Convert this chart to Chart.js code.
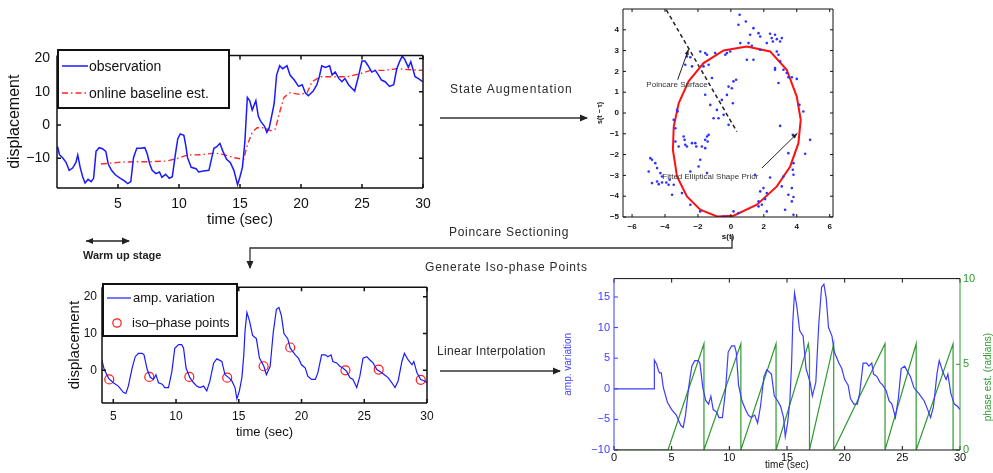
<!DOCTYPE html>
<html>
<head>
<meta charset="utf-8">
<script src="https://cdn.jsdelivr.net/npm/chart.js@4.4.1/dist/chart.umd.min.js"></script>
<style>
  body { margin: 0; background: #fff; width: 993px; height: 473px; position: relative; overflow: hidden; font-family: "Liberation Sans", Arial, sans-serif; }
  .wrap { position: absolute; }
  .lbl { position: absolute; line-height: 1; white-space: nowrap; color: #2a2a2a; }
  .legend { position: absolute; box-sizing: border-box; border: 2px solid #111; background: #fff; }
  svg.over { position: absolute; left: 0; top: 0; pointer-events: none; }
</style>
</head>
<body>

<div class="wrap" style="left:0;top:40px;width:440px;height:200px"><canvas id="obsChart"></canvas></div>
<div class="wrap" style="left:590px;top:0;width:250px;height:245px"><canvas id="phaseSpace"></canvas></div>
<div class="wrap" style="left:60px;top:275px;width:380px;height:175px"><canvas id="isoChart"></canvas></div>
<div class="wrap" style="left:555px;top:268px;width:438px;height:205px"><canvas id="interpChart"></canvas></div>

<!-- legends -->
<div class="legend" style="left:57px;top:49px;width:173px;height:60px"></div>
<div class="legend" style="left:102px;top:283px;width:136px;height:54px"></div>

<svg class="over" width="993" height="473">
  <defs>
    <marker id="ah" markerWidth="8" markerHeight="8" refX="7" refY="4" orient="auto" markerUnits="userSpaceOnUse">
      <path d="M0,0.5 L8,4 L0,7.5 Z" fill="#222"/>
    </marker>
    <marker id="ahs" markerWidth="7" markerHeight="7" refX="0" refY="3.5" orient="auto" markerUnits="userSpaceOnUse">
      <path d="M7,0.5 L0,3.5 L7,6.5 Z" fill="#222"/>
    </marker>
  </defs>
  <!-- legend samples -->
  <line x1="62" y1="66" x2="88" y2="66" stroke="#1a1aff" stroke-width="1.5"/>
  <line x1="62" y1="93" x2="88" y2="93" stroke="#ff2020" stroke-width="1.5" stroke-dasharray="6,3,1.5,3"/>
  <line x1="107" y1="298" x2="131" y2="298" stroke="#1a1aff" stroke-width="1.2"/>
  <circle cx="117" cy="323" r="4.2" fill="none" stroke="#ff1a1a" stroke-width="1.2"/>
  <!-- flow arrows -->
  <line x1="440" y1="118" x2="587" y2="118" stroke="#333" stroke-width="1.3" marker-end="url(#ah)"/>
  <polyline points="732,236 732,248 250,248 250,268" fill="none" stroke="#333" stroke-width="1.3" marker-end="url(#ah)"/>
  <line x1="440" y1="371" x2="560" y2="371" stroke="#333" stroke-width="1.3" marker-end="url(#ah)"/>
  <line x1="86" y1="241" x2="129" y2="241" stroke="#222" stroke-width="1.3" marker-start="url(#ahs)" marker-end="url(#ah)"/>
</svg>

<div class="lbl" style="left:89px;top:59px;font-size:14px;color:#111">observation</div>
<div class="lbl" style="left:89px;top:86px;font-size:14px;color:#111">online baseline est.</div>
<div class="lbl" style="left:133px;top:291px;font-size:13px;color:#111">amp. variation</div>
<div class="lbl" style="left:132px;top:316px;font-size:13px;color:#111">iso–phase points</div>

<div class="lbl" style="left:450px;top:83px;font-size:12px;letter-spacing:1px">State Augmentation</div>
<div class="lbl" style="left:449px;top:226px;font-size:12px;letter-spacing:0.7px">Poincare Sectioning</div>
<div class="lbl" style="left:425px;top:261px;font-size:12px;letter-spacing:0.8px">Generate Iso-phase Points</div>
<div class="lbl" style="left:437px;top:345px;font-size:12px;letter-spacing:0.3px">Linear Interpolation</div>
<div class="lbl" style="left:83px;top:250px;font-size:11px;font-weight:bold;color:#222">Warm up stage</div>
<div class="lbl" style="left:988px;top:377px;font-size:10px;color:#2e9a2e;transform:translate(-50%,-50%) rotate(-90deg)">phase est. (radians)</div>

<script>
// ---- top-left: raw observation and online baseline ----
const observation = [[0.05,-6.5],[0.2,-8.9],[0.46,-9.8],[0.74,-11.2],[1.0,-13.6],[1.28,-12.9],[1.55,-11.2],[1.7,-9.0],
  [1.9,-12.7],[2.1,-15.5],[2.3,-17.4],[2.55,-16.3],[2.8,-17.0],[3.0,-16.0],[3.2,-7.9],[3.46,-6.8],[3.73,-7.1],[4.0,-7.9],
  [4.2,-11.7],[4.47,-13.6],[4.8,-15.0],[5.2,-16.0],[5.5,-16.7],[5.8,-17.6],[6.05,-17.0],[6.27,-9.8],[6.54,-7.0],[6.87,-7.0],
  [7.2,-6.8],[7.4,-8.7],[7.6,-11.7],[7.8,-13.6],[8.1,-14.6],[8.4,-14.1],[8.6,-15.7],[8.9,-14.8],[9.2,-16.0],[9.45,-15.5],
  [9.7,-8.9],[9.9,-4.1],[10.1,-2.7],[10.4,-3.1],[10.55,-6.0],[10.7,-9.8],[11.0,-12.7],[11.4,-13.1],[11.6,-14.1],[12.0,-13.8],
  [12.45,-13.6],[12.6,-11.2],[12.86,-7.0],[13.1,-6.5],[13.35,-5.5],[13.6,-7.9],[13.9,-10.3],[14.2,-11.2],[14.5,-13.6],
  [14.8,-17.9],[15.0,-15.5],[15.2,-12.7],[15.4,-5.0],[15.6,8.3],[15.8,7.3],[16.0,4.5],[16.3,7.3],[16.5,2.6],[16.7,1.1],
  [17.0,-0.3],[17.2,-2.2],[17.4,-0.8],[17.8,6.4],[18.0,15.0],[18.25,17.8],[18.5,16.9],[18.85,17.8],[19.1,15.0],[19.45,13.5],
  [19.8,11.6],[20.1,12.1],[20.35,9.7],[20.6,8.8],[21.0,10.2],[21.3,12.1],[21.5,14.5],[21.7,17.8],[22.0,17.3],[22.35,17.8],
  [22.55,15.0],[22.8,15.9],[23.1,14.0],[23.35,13.0],[23.6,14.0],[23.9,12.1],[24.15,11.1],[24.4,10.2],[24.7,14.5],[25.0,19.2],
  [25.25,19.2],[25.5,17.8],[25.8,15.9],[26.1,16.4],[26.35,15.0],[26.6,13.5],[26.9,13.0],[27.25,11.6],[27.6,12.1],[27.85,16.9],
  [28.1,19.2],[28.3,20.7],[28.5,19.7],[28.8,17.3],[29.0,19.0],[29.35,14.5],[29.6,14.0],[29.97,13.0]];
const baseline = [[3.6,-11.7],[5.0,-11.2],[6.3,-11.0],[7.7,-11.0],[9.0,-10.8],[9.9,-10.0],[10.7,-9.0],[11.8,-8.9],[12.9,-8.4],
  [13.7,-8.9],[14.5,-9.8],[15.3,-10.3],[15.6,-6.0],[16.0,-2.2],[16.4,-0.8],[17.0,-0.8],[17.5,-1.7],[17.9,-1.2],[18.3,4.5],
  [18.6,8.3],[19.1,9.7],[19.9,9.2],[20.5,9.7],[20.9,13.0],[21.6,14.5],[22.7,14.5],[23.8,14.5],[24.85,15.4],[25.7,16.4],
  [26.75,16.4],[27.85,16.9],[28.9,16.6],[30.0,16.4]];

// ---- top-right: delay embedding ----
const embedPoints = [[0.53,4.72],[0.91,4.40],[0.46,4.24],[1.37,4.08],[1.17,3.76],[1.68,3.84],[1.78,3.68],[2.38,3.81],[2.48,3.60],
  [2.68,3.76],[2.79,3.55],[3.09,3.60],[2.99,3.44],[2.55,3.44],[2.18,3.36],[1.07,3.36],[1.27,3.23],[0.57,3.36],[0.97,2.56],
  [1.37,2.56],[1.78,3.04],[2.79,2.96],[2.89,2.80],[2.99,2.48],[2.68,2.16],[2.68,2.08],[3.19,2.08],[3.39,1.92],[3.49,1.72],
  [3.70,1.72],[4.0,1.64],[2.89,1.44],[4.16,0.39],[4.40,0.07],[2.99,-0.62],[4.81,-1.29],[3.76,-1.05],[3.49,-1.93],[4.51,-1.96],
  [3.80,-2.41],[3.76,-2.73],[3.80,-2.97],[3.19,-3.05],[3.09,-3.53],[3.70,-3.61],[3.49,-3.93],[3.80,-4.04],[3.70,-4.25],
  [3.29,-4.65],[3.80,-4.89],[1.98,-3.61],[1.78,-3.77],[2.18,-3.85],[2.08,-4.14],[1.68,-4.25],[1.88,-4.41],[1.68,-4.49],
  [2.18,-4.73],[1.47,-2.97],[2.38,-3.10],[0.16,-4.73],[0.46,-4.81],[-0.44,-4.98],
  [-4.89,-2.17],[-4.79,-2.25],[-4.59,-2.41],[-4.48,-2.65],[-4.99,-2.81],[-4.28,-2.89],[-4.18,-3.05],[-4.48,-3.29],[-4.79,-3.37],
  [-4.38,-3.42],[-4.18,-3.34],[-3.92,-3.34],[-3.72,-3.21],[-3.78,-3.45],[-3.47,-3.45],[-3.57,-3.93],[-2.97,-3.85],
  [-3.47,-0.33],[-3.37,-0.73],[-3.27,0.15],[-3.23,0.07],[-3.37,-1.37],[-3.17,-1.61],[-2.87,-1.13],[-2.81,-1.29],[-2.77,-1.53],
  [-2.67,-1.61],[-2.36,-1.45],[-2.16,-1.45],[-2.10,-1.61],[-1.76,-1.61],[-1.56,-1.29],[-1.45,-1.13],[-1.35,-1.05],[-1.41,-1.37],
  [-1.56,-1.69],[-1.86,-2.25],[-1.96,-2.57],[-2.46,-2.81],[-1.45,-2.89],[-1.86,-4.73],[-2.46,-4.41],
  [-2.67,2.72],[-2.46,2.68],[-2.77,2.32],[-2.36,2.24],[-1.86,2.96],[-1.56,2.88],[-1.45,2.80],[-1.66,2.24],[-1.35,2.32],
  [-0.95,2.88],[-0.34,2.80],[-0.24,2.88],[-0.04,2.96],[-1.15,1.68],[-1.56,0.88],[-1.25,0.39],[-1.05,-0.25],[-0.75,-0.25],
  [-0.85,0.15],[-0.55,0.63],[-0.24,0.87],[-0.14,1.27],[0.06,1.19],[0.16,1.52],[0.32,1.60],[0.12,0.47],[-0.44,-0.09],[-0.14,-0.57]];
const ellipsePrior = [[0.97,3.2],[2.38,2.96],[3.39,2.08],[4.0,0.79],[4.24,-0.33],[4.1,-1.45],[3.6,-2.57],[2.79,-3.53],
  [1.58,-4.41],[0.16,-4.94],[-0.85,-4.97],[-1.86,-4.65],[-2.67,-4.01],[-3.27,-3.05],[-3.52,-1.77],[-3.47,-0.65],
  [-3.17,0.47],[-2.57,1.52],[-1.66,2.40],[-0.44,3.01],[0.97,3.2]];
const poincareSurface = [[-3.92,4.96],[0.36,-0.89]];

// ---- bottom: amplitude variation, iso-phase points and phase estimate ----
const ampVariation = [[0,0],[3.47,0],[3.5,4.7],[3.7,4.0],[3.85,3.0],[3.95,2.6],[4.1,2.6],[4.28,0.2],[4.63,-2.2],[5.0,-3.4],
  [5.4,-4.3],[5.8,-6.0],[6.0,-6.3],[6.2,-4.3],[6.5,0.6],[6.75,3.7],[7.0,4.6],[7.3,4.6],[7.45,4.2],[7.7,0.2],[7.95,-1.9],
  [8.2,-2.5],[8.4,-1.2],[8.6,-3.4],[8.9,-3.8],[9.1,-4.7],[9.4,-4.7],[9.67,-0.3],[9.9,6.0],[10.2,7.0],[10.45,7.0],[10.6,6.0],
  [10.8,0.6],[11.1,-2.0],[11.4,-3.4],[11.65,-4.3],[11.9,-4.7],[12.2,-4.3],[12.45,-5.6],[12.7,-2.9],[13.0,2.0],[13.25,3.1],
  [13.65,2.4],[13.9,-1.2],[14.2,-2.0],[14.45,-2.9],[14.7,-4.7],[14.85,-7.8],[15.05,-5.6],[15.25,-2.0],[15.4,4.2],[15.5,10.8],
  [15.65,15.7],[15.85,13.5],[16.1,9.5],[16.4,8.6],[16.65,3.3],[17.0,1.1],[17.2,-1.2],[17.5,1.1],[17.75,10.4],[18.0,16.6],
  [18.2,17.1],[18.4,14.8],[18.6,10.0],[18.9,8.6],[19.1,6.0],[19.5,4.2],[19.75,3.3],[20.0,1.5],[20.3,0.6],[20.5,-1.6],
  [20.8,-2.5],[21.1,-2.5],[21.3,-0.7],[21.6,4.2],[21.9,4.2],[22.1,3.7],[22.35,4.2],[22.5,2.4],[22.8,2.0],[23.05,1.1],
  [23.3,0.6],[23.6,-0.3],[23.85,-2.0],[24.1,-2.5],[24.4,-4.7],[24.65,-1.6],[24.9,3.3],[25.2,3.7],[25.45,2.8],[25.7,2.0],
  [26.0,0.2],[26.4,-0.7],[26.6,-1.2],[26.9,-2.0],[27.2,-3.4],[27.45,-4.7],[27.7,-2.9],[28.0,2.4],[28.2,4.6],[28.5,2.8],
  [28.8,1.5],[28.95,2.4],[29.2,-0.7],[29.5,-2.5],[29.8,-2.9],[30.0,-3.4]];
const isoPhasePoints = [[4.68,-2.5],[7.87,-1.8],[11.06,-1.8],[14.08,-2.0],[16.98,1.1],[19.1,6.2],[23.5,0.0],[26.15,0.2],[29.5,-2.6]];
const phaseEstimate = [[0,0],[4.68,0],[7.8,6.2],[7.8,0],[11.0,6.2],[11.0,0],[14.05,6.2],[14.05,0],[16.85,6.2],[16.95,5.6],
  [16.95,0],[19.05,6.2],[19.05,0],[23.5,6.2],[23.5,0],[26.2,6.2],[26.2,0],[29.4,6.2],[29.4,0],[30,0]];

// tick labels
const timeTicksTop = [5, 10, 15, 20, 25, 30];
const dispTicksTop = [-10, 0, 10, 20];
const embedXTicks = [-6, -4, -2, 0, 2, 4, 6];
const embedYTicks = [-5, -4, -3, -2, -1, 0, 1, 2, 3, 4];
const dispTicksIso = [0, 10, 20];
const timeTicksFull = [0, 5, 10, 15, 20, 25, 30];
const ampTicks = [-10, -5, 0, 5, 10, 15];
const phaseTicks = [0, 5, 10];

const BLUE = '#1a1aff', RED = '#ff1a1a', GREEN = '#2e9a2e', LBLUE = '#3c3cff';
const FONT = '"Liberation Sans", Arial, sans-serif';
const pts = arr => arr.map(p => ({ x: p[0], y: p[1] }));

// box + inward tick marks, like the matlab axes
const framePlugin = {
  id: 'frame',
  afterDraw(chart, args, o) {
    const { ctx, chartArea: a, scales } = chart;
    const tl = o.tick || 4;
    ctx.save();
    ctx.lineWidth = o.width || 1;
    ctx.strokeStyle = o.color || '#000';
    scales.x.ticks.forEach(t => {
      const px = scales.x.getPixelForValue(t.value);
      ctx.beginPath();
      ctx.moveTo(px, a.bottom); ctx.lineTo(px, a.bottom - tl);
      ctx.moveTo(px, a.top); ctx.lineTo(px, a.top + tl);
      ctx.stroke();
    });
    ctx.strokeStyle = o.leftColor || o.color || '#000';
    scales.y.ticks.forEach(t => {
      const py = scales.y.getPixelForValue(t.value);
      ctx.beginPath();
      ctx.moveTo(a.left, py); ctx.lineTo(a.left + tl, py);
      if (!scales.y2) { ctx.moveTo(a.right, py); ctx.lineTo(a.right - tl, py); }
      ctx.stroke();
    });
    if (scales.y2) {
      ctx.strokeStyle = o.rightColor;
      scales.y2.ticks.forEach(t => {
        const py = scales.y2.getPixelForValue(t.value);
        ctx.beginPath(); ctx.moveTo(a.right, py); ctx.lineTo(a.right - tl, py); ctx.stroke();
      });
    }
    ctx.strokeStyle = o.color || '#000';
    ctx.beginPath();
    ctx.moveTo(a.left, a.top); ctx.lineTo(a.right, a.top);
    ctx.moveTo(a.left, a.bottom); ctx.lineTo(a.right, a.bottom);
    ctx.stroke();
    ctx.strokeStyle = o.leftColor || o.color || '#000';
    ctx.beginPath(); ctx.moveTo(a.left, a.top); ctx.lineTo(a.left, a.bottom); ctx.stroke();
    ctx.strokeStyle = o.rightColor || o.color || '#000';
    ctx.beginPath(); ctx.moveTo(a.right, a.top); ctx.lineTo(a.right, a.bottom); ctx.stroke();
    ctx.restore();
  }
};

// text + arrows inside the embedding plot, placed in data coordinates
const notesPlugin = {
  id: 'notes',
  afterDatasetsDraw(chart, args, o) {
    if (!o.items) return;
    const { ctx, scales: { x, y } } = chart;
    ctx.save();
    ctx.font = '8px ' + FONT;
    ctx.fillStyle = '#333';
    ctx.strokeStyle = '#222';
    ctx.lineWidth = 1;
    o.items.forEach(n => {
      ctx.textAlign = 'center'; ctx.textBaseline = 'middle';
      ctx.fillText(n.text, x.getPixelForValue(n.at[0]), y.getPixelForValue(n.at[1]));
      const x0 = x.getPixelForValue(n.from[0]), y0 = y.getPixelForValue(n.from[1]);
      const x1 = x.getPixelForValue(n.to[0]), y1 = y.getPixelForValue(n.to[1]);
      ctx.beginPath(); ctx.moveTo(x0, y0); ctx.lineTo(x1, y1); ctx.stroke();
      const ang = Math.atan2(y1 - y0, x1 - x0);
      ctx.beginPath();
      ctx.moveTo(x1, y1);
      ctx.lineTo(x1 - 6 * Math.cos(ang - 0.35), y1 - 6 * Math.sin(ang - 0.35));
      ctx.lineTo(x1 - 6 * Math.cos(ang + 0.35), y1 - 6 * Math.sin(ang + 0.35));
      ctx.closePath(); ctx.fillStyle = '#222'; ctx.fill(); ctx.fillStyle = '#333';
    });
    ctx.restore();
  }
};

function fixed(list) { return s => { s.ticks = list.map(v => ({ value: v })); }; }
// matlab prints a real minus sign
const minus = v => String(v).replace('-', '\u2212');
function axis(o) {
  return {
    type: 'linear', min: o.min, max: o.max, position: o.position || undefined,
    afterBuildTicks: fixed(o.ticks),
    afterFit: s => { if (s.isHorizontal()) s.height = o.size; else s.width = o.size; },
    grid: { display: false, drawTicks: false },
    border: { display: false },
    ticks: { padding: o.pad, color: o.color || '#111', callback: minus,
      font: { family: FONT, size: o.font, weight: o.bold ? 'bold' : 'normal' }, maxRotation: 0 },
    title: o.title ? { display: true, text: o.title, color: o.titleColor || o.color || '#111',
      font: { family: FONT, size: o.titleFont, weight: o.titleBold ? 'bold' : 'normal' }, padding: o.titlePad } : { display: false }
  };
}
function base(padTop, padRight) {
  return {
    responsive: true, maintainAspectRatio: false, animation: false,
    layout: { padding: { top: padTop, right: padRight, left: 0, bottom: 0 } },
    plugins: { legend: { display: false }, tooltip: { enabled: false } },
    elements: { point: { radius: 0 }, line: { tension: 0 } }
  };
}

// chart 1
const o1 = base(9, 17);
o1.scales = {
  x: axis({ min: 0, max: 30, ticks: timeTicksTop, size: 52, pad: 8, font: 14, title: 'time (sec)', titleFont: 15, titlePad: { top: 0, bottom: 11 } }),
  y: axis({ min: -18.9, max: 20.9, ticks: dispTicksTop, size: 57, pad: 7, font: 14, title: 'displacement', titleFont: 16, titlePad: { top: 5, bottom: 0 } })
};
o1.plugins.frame = { color: '#111', width: 1.5, tick: 4 };
new Chart(document.getElementById('obsChart'), {
  type: 'line',
  data: { datasets: [
    { data: pts(observation), borderColor: BLUE, borderWidth: 1.5 },
    { data: pts(baseline), borderColor: '#ff2a2a', borderWidth: 1.4, borderDash: [6, 3, 1.5, 3] }
  ] },
  options: o1, plugins: [framePlugin]
});

// chart 2
const o2 = base(9, 7);
o2.scales = {
  x: axis({ min: -6.55, max: 6.2, ticks: embedXTicks, size: 28, pad: 5, font: 8, bold: true, title: 's(t)', titleFont: 8, titleBold: true, titlePad: { top: 0, bottom: 3 } }),
  y: axis({ min: -5, max: 5, ticks: embedYTicks, size: 33, pad: 4, font: 8, bold: true, title: 's(t − τ)', titleFont: 7, titleBold: true, titlePad: { top: 6, bottom: 0 } })
};
o2.plugins.frame = { color: '#111', width: 1, tick: 3 };
o2.plugins.notes = { items: [
  { text: 'Poincare Surface', at: [-3.27, 1.36], from: [-3.23, 1.6], to: [-2.57, 3.07] },
  { text: 'Fitted Elliptical Shape Prior', at: [-1.25, -3.05], from: [1.88, -2.65], to: [4.04, -0.97] }
] };
new Chart(document.getElementById('phaseSpace'), {
  type: 'scatter',
  data: { datasets: [
    { data: pts(embedPoints), backgroundColor: '#3030ff', borderWidth: 0, pointRadius: 1.3 },
    { data: pts(ellipsePrior), showLine: true, borderColor: '#ff1010', borderWidth: 2, pointRadius: 0 },
    { data: pts(poincareSurface), showLine: true, borderColor: '#222', borderWidth: 1.5, borderDash: [4, 3], pointRadius: 0 }
  ] },
  options: o2, plugins: [framePlugin, notesPlugin]
});

// chart 3
const o3 = base(8, 13);
o3.scales = {
  x: axis({ min: 4.1, max: 30, ticks: timeTicksTop, size: 47, pad: 6, font: 12, title: 'time (sec)', titleFont: 13, titlePad: { top: 0, bottom: 10 } }),
  y: axis({ min: -8.9, max: 22.6, ticks: dispTicksIso, size: 42, pad: 5, font: 12, title: 'displacement', titleFont: 15, titlePad: { top: 6, bottom: 0 } })
};
o3.plugins.frame = { color: '#111', width: 1.5, tick: 4 };
new Chart(document.getElementById('isoChart'), {
  type: 'line',
  data: { datasets: [
    { data: pts(ampVariation), borderColor: BLUE, borderWidth: 1.2 },
    { data: pts(isoPhasePoints), showLine: false, pointRadius: 4.5, pointBorderColor: RED, pointBackgroundColor: 'rgba(0,0,0,0)', pointBorderWidth: 1.2 }
  ] },
  options: o3, plugins: [framePlugin]
});

// chart 4
const o4 = base(7, 0);
o4.scales = {
  x: axis({ min: 0, max: 30, ticks: timeTicksFull, size: 23, pad: 1, font: 11, title: 'time (sec)', titleFont: 10, titlePad: { top: 0, bottom: 2 } }),
  y: axis({ min: -10, max: 18, ticks: ampTicks, size: 59, pad: 4, font: 11, color: LBLUE, title: 'amp. variation', titleFont: 10, titlePad: { top: 7, bottom: 0 } }),
  y2: axis({ min: 0, max: 10, ticks: phaseTicks, size: 33, pad: 3, font: 11, color: GREEN, position: 'right' })
};
o4.plugins.frame = { color: '#111', leftColor: LBLUE, rightColor: GREEN, width: 1, tick: 4 };
new Chart(document.getElementById('interpChart'), {
  type: 'line',
  data: { datasets: [
    { data: pts(ampVariation), borderColor: LBLUE, borderWidth: 1.2, yAxisID: 'y' },
    { data: pts(phaseEstimate), borderColor: GREEN, borderWidth: 1.2, yAxisID: 'y2' }
  ] },
  options: o4, plugins: [framePlugin]
});
</script>
</body>
</html>
